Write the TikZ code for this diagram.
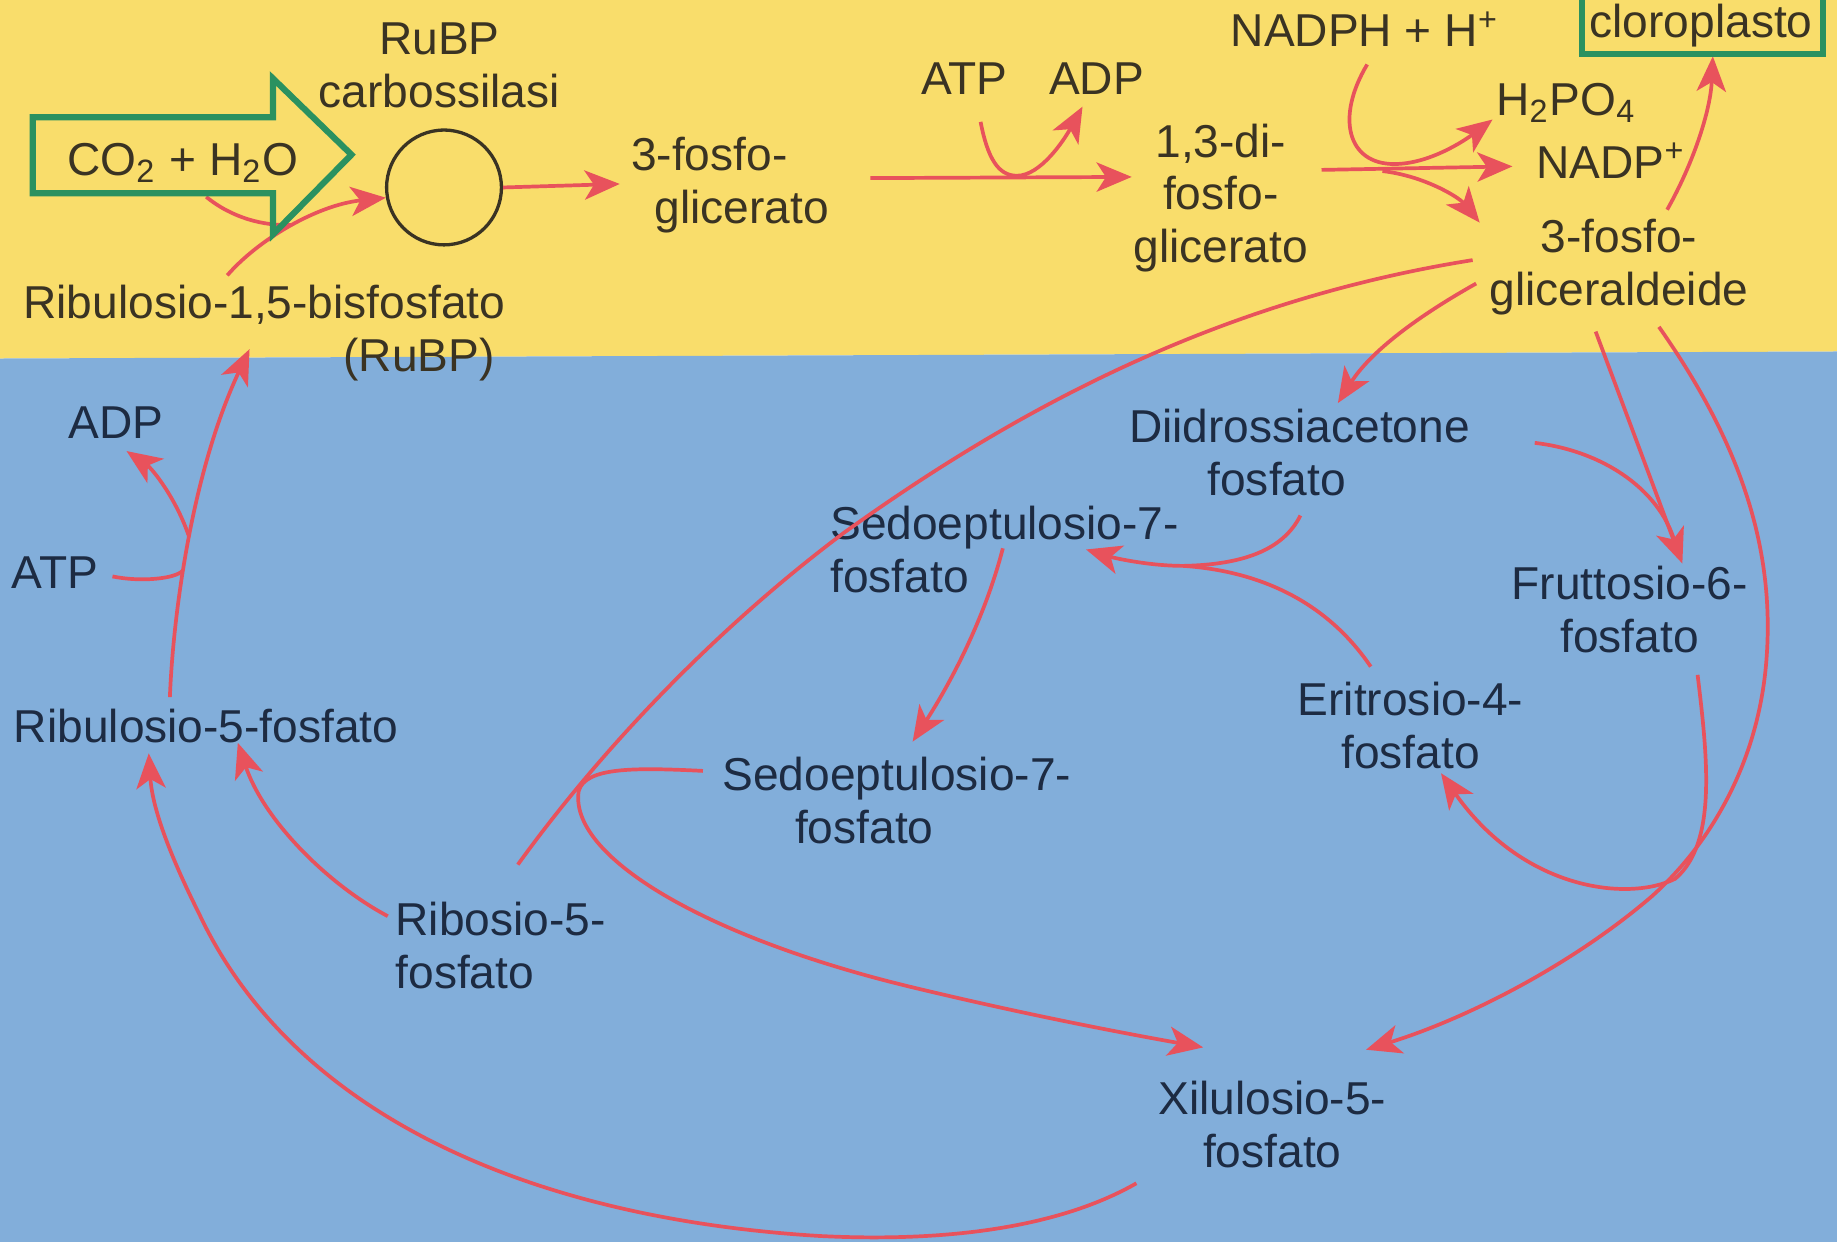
\documentclass[tikz,border=0pt]{standalone}
\usepackage{fontspec}
\setmainfont{Liberation Sans}
\usetikzlibrary{arrows.meta}
\usepackage{xcolor}
\definecolor{cYellow}{HTML}{F9DD6B}
\definecolor{cBlue}{HTML}{82AEDA}
\definecolor{cRed}{HTML}{E8525C}
\definecolor{cGreen}{HTML}{2B9160}
\definecolor{cInk}{HTML}{3A3323}
\definecolor{cNavy}{HTML}{1D2B42}

\begin{document}
\begin{tikzpicture}[
  x=0.1mm, y=-0.1mm,
  lbl/.style={inner sep=0pt, text=#1, font=\fontsize{11.2}{12.8}\selectfont},
  lbl/.default=cInk,
  rxn/.style={draw=cRed, line width=0.9pt},
  rxnto/.style={rxn, -{Stealth[length=3mm, width=2.5mm, inset=0.8mm]}},
  hilite/.style={draw=cGreen, line width=1.5pt, line join=miter}
]

  \useasboundingbox (0,0) rectangle (1568,1060);
  \fill[cYellow] (0,0) -- (1568,0) -- (1568,300) -- (0,306) -- cycle;
  \fill[cBlue] (0,306) -- (1568,300) -- (1568,1060) -- (0,1060) -- cycle;

  % stroma side (yellow)
  \node[lbl, align=center] (rubisco) at (375,56) {RuBP\\carbossilasi};
  \node[lbl] (co2) at (156,139) {CO\textsubscript{2} + H\textsubscript{2}O};
  \node[draw=cInk, line width=0.8pt, circle, minimum size=9.8mm, inner sep=0pt] (rub) at (379,160) {};
  \node[lbl, align=left, anchor=west] (pga) at (538,158) {3-fosfo-\\\hspace*{2mm}glicerato};
  \node[lbl] (atp1) at (823,67) {ATP};
  \node[lbl] (adp1) at (936,67) {ADP};
  \node[lbl, align=center] (bpg) at (1042,169) {1,3-di-\\fosfo-\\glicerato};
  \node[lbl] (nadph) at (1165,25) {NADPH + H\textsuperscript{+}};
  \node[lbl] (cloro) at (1452,22) {cloroplasto};
  \node[lbl] (hpo) at (1337,88) {H\textsubscript{2}PO\textsubscript{4}};
  \node[lbl] (nadp) at (1375,137) {NADP\textsuperscript{+}};
  \node[lbl, align=center] (g3p) at (1382,228) {3-fosfo-\\gliceraldeide};
  \node[lbl, align=right, anchor=east] (rubp) at (432,284) {Ribulosio-1,5-bisfosfato\\(RuBP)\hspace*{0.9mm}};

  % regeneration (blue)
  \node[lbl=cNavy] (adp2) at (99,361) {ADP};
  \node[lbl=cNavy] (atp2) at (47,489) {ATP};
  \node[lbl=cNavy] (ru5p) at (176,620) {Ribulosio-5-fosfato};
  \node[lbl=cNavy, align=left, anchor=west] (r5p) at (337,807) {Ribosio-5-\\fosfato};
  \node[lbl=cNavy, align=left, anchor=west] (dhap) at (963,386) {Diidrossiacetone\\\hspace*{6.7mm}fosfato};
  \node[lbl=cNavy, align=left, anchor=west] (s7pa) at (708,469) {Sedoeptulosio-7-\\fosfato};
  \node[lbl=cNavy, align=left, anchor=west] (s7pb) at (616,683) {Sedoeptulosio-7-\\\hspace*{6.2mm}fosfato};
  \node[lbl=cNavy, align=center] (f6p) at (1391,520) {Fruttosio-6-\\fosfato};
  \node[lbl=cNavy, align=center] (e4p) at (1204,619) {Eritrosio-4-\\fosfato};
  \node[lbl=cNavy, align=center] (xu5p) at (1086,960) {Xilulosio-5-\\fosfato};

  % end points and junctions
  \coordinate (co2-in) at (176,168);
  \coordinate (rubp-out) at (194,235);
  \coordinate (j-co2) at (249,192);
  \coordinate (pga-in) at (529,157);
  \coordinate (pga-out) at (743,152);
  \coordinate (bpg-in) at (966,151);
  \coordinate (atp-in) at (837,104);
  \coordinate (adp-out) at (924,91);
  \coordinate (bpg-out) at (1128,145);
  \coordinate (nadp-in) at (1291,142);
  \coordinate (j-bpg) at (1180,146);
  \coordinate (g3p-in) at (1263,190);
  \coordinate (nadph-in) at (1167,55);
  \coordinate (hpo-out) at (1274,102);
  \coordinate (g3p-up) at (1423,179);
  \coordinate (cloro-in) at (1462,48);
  \coordinate (g3p-w) at (1257,222);
  \coordinate (r5p-up) at (442,738);
  \coordinate (s7pb-w) at (600,658);
  \coordinate (xu5p-l) at (1027,894);
  \coordinate (g3p-sw) at (1260,242);
  \coordinate (dhap-in) at (1142,344);
  \coordinate (g3p-s) at (1362,283);
  \coordinate (f6p-in) at (1436,481);
  \coordinate (dhap-e) at (1310,378);
  \coordinate (j-f6p) at (1431,468);
  \coordinate (g3p-se) at (1416,279);
  \coordinate (xu5p-r) at (1166,896);
  \coordinate (f6p-out) at (1449,576);
  \coordinate (e4p-in) at (1230,660);
  \coordinate (dhap-s) at (1110,440);
  \coordinate (s7pa-in) at (927,469);
  \coordinate (j-s7) at (1010,483);
  \coordinate (e4p-up) at (1170,569);
  \coordinate (s7pa-s) at (856,468);
  \coordinate (s7pb-in) at (779,633);
  \coordinate (r5p-nw) at (331,782);
  \coordinate (ru5p-in2) at (203,634);
  \coordinate (xu5p-s) at (970,1010);
  \coordinate (ru5p-in1) at (127,643);
  \coordinate (ru5p-up) at (145,595);
  \coordinate (rubp-in) at (213,298);
  \coordinate (atp2-out) at (96,492);
  \coordinate (j-atp) at (156,487);
  \coordinate (j-adp) at (161,457);
  \coordinate (adp2-in) at (108,385);

  % fixation and reduction
  \draw[rxnto] (rubp-out) .. controls (220,205) and (270,175) .. (rub.190);
  \draw[rxn] (co2-in) .. controls (198,186) and (225,193) .. (j-co2);
  \draw[rxnto] (rub.east) -- (pga-in);
  \draw[rxnto] (pga-out) -- (bpg-in);
  \draw[rxnto] (atp-in) .. controls (843,135) and (852,150) .. (868,150)
    .. controls (888,150) and (908,120) .. (adp-out);
  \draw[rxnto] (bpg-out) -- (nadp-in);
  \draw[rxnto] (j-bpg) .. controls (1215,150) and (1245,168) .. (g3p-in);
  \draw[rxnto] (nadph-in) .. controls (1140,100) and (1150,140) .. (1190,140)
    .. controls (1220,140) and (1250,120) .. (hpo-out);
  \draw[rxnto] (g3p-up) .. controls (1445,140) and (1460,95) .. (cloro-in);

  % regeneration of RuBP
  \draw[rxn] (g3p-w) .. controls (1050,255) and (880,340) .. (720,455)
    .. controls (620,530) and (520,630) .. (r5p-up);
  \draw[rxnto] (s7pb-w) .. controls (540,655) and (500,655) .. (494,675)
    .. controls (485,730) and (600,800) .. (780,843)
    .. controls (880,867) and (960,882) .. (xu5p-l);
  \draw[rxnto] (g3p-sw) .. controls (1210,270) and (1170,300) .. (dhap-in);
  \draw[rxnto] (g3p-s) -- (f6p-in);
  \draw[rxn] (dhap-e) .. controls (1370,385) and (1420,420) .. (j-f6p);
  \draw[rxnto] (g3p-se) .. controls (1480,370) and (1515,460) .. (1508,560)
    .. controls (1502,650) and (1460,720) .. (1410,765)
    .. controls (1340,825) and (1250,870) .. (xu5p-r);
  \draw[rxnto] (f6p-out) .. controls (1458,650) and (1465,720) .. (1430,750)
    .. controls (1390,770) and (1300,760) .. (e4p-in);
  \draw[rxnto] (dhap-s) .. controls (1095,470) and (1060,482) .. (j-s7)
    .. controls (980,483) and (950,476) .. (s7pa-in);
  \draw[rxn] (e4p-up) .. controls (1130,510) and (1070,487) .. (j-s7);
  \draw[rxnto] (s7pa-s) .. controls (840,530) and (810,585) .. (s7pb-in);
  \draw[rxnto] (r5p-nw) .. controls (280,755) and (225,700) .. (ru5p-in2);
  \draw[rxnto] (xu5p-s) .. controls (900,1050) and (800,1060) .. (700,1055)
    .. controls (450,1040) and (250,950) .. (170,780)
    .. controls (145,730) and (130,690) .. (ru5p-in1);
  \draw[rxnto] (ru5p-up) .. controls (148,520) and (165,400) .. (rubp-in);
  \draw[rxn] (atp2-out) .. controls (120,497) and (150,494) .. (j-atp);
  \draw[rxnto] (j-adp) .. controls (150,425) and (130,400) .. (adp2-in);

  % green highlights
  \draw[hilite] (28,100) -- (233,100) -- (233,67) -- (300,132) -- (233,200)
    -- (233,165) -- (28,165) -- cycle;
  \draw[hilite] (1350,-20) rectangle (1556,46);

\end{tikzpicture}
\end{document}
